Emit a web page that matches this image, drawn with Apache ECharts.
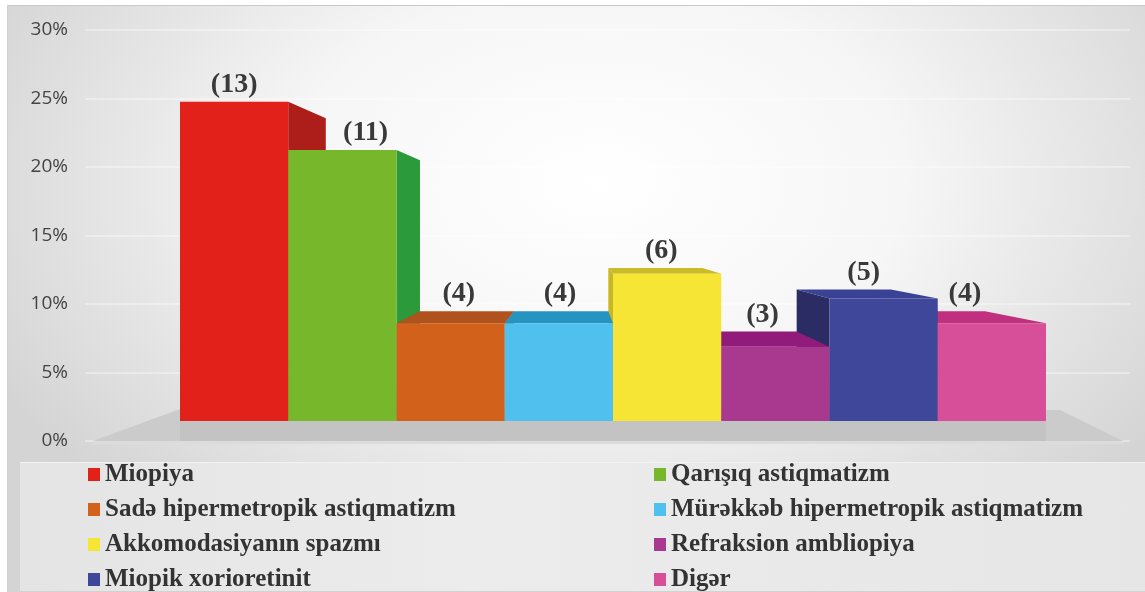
<!DOCTYPE html>
<html>
<head>
<meta charset="utf-8">
<script src="https://cdn.jsdelivr.net/npm/echarts@6/dist/echarts.min.js"></script>
<style>
  html, body { margin: 0; padding: 0; background: #fff; }
  #frame {
    position: absolute; left: 7px; top: 5px; width: 1138px; height: 587px;
    border-top: 1px solid #c9c9c9; border-left: 1px solid #d0d0d0; box-sizing: border-box;
    background: radial-gradient(ellipse 60% 75% at 52% 30%, #ffffff 0%, #f6f6f6 45%, #d4d4d4 100%);
  }
  #legendBox {
    position: absolute; left: 20px; top: 462px; width: 1125px; height: 128px;
    background: linear-gradient(90deg, #e4e4e4, #ececec 40%, #e6e6e6);
    border-top: 1px solid #f2f2f2; border-bottom: 2px solid #d2d2d2;
  }
  #main { position: absolute; left: 0; top: 0; width: 1145px; height: 592px; }
</style>
</head>
<body>
<div id="frame"></div>
<div id="legendBox"></div>
<div id="main"></div>
<script>
// kateqoriyalar (legend sırası ilə)
var categories = ['Miopiya', 'Qarışıq astiqmatizm', 'Sadə hipermetropik astiqmatizm',
  'Mürəkkəb hipermetropik astiqmatizm', 'Akkomodasiyanın spazmı', 'Refraksion ambliopiya',
  'Miopik xorioretinit', 'Digər'];
// faizlər (şəkildən oxunub)
var percents = [24.5, 20.8, 7.5, 7.5, 11.3, 5.7, 9.4, 7.5];
// sütun üstündəki say
var countLabels = ['(13)', '(11)', '(4)', '(4)', '(6)', '(3)', '(5)', '(4)'];
// y oxu
var yMin = 0, yMax = 30, yStep = 5;

var frontColors = ['#e3211b', '#76b72b', '#d1611b', '#50c1ef', '#f6e534', '#a9388f', '#3f479a', '#d64f98'];
var topColors   = ['#b31f1a', '#2c9a3b', '#b0521d', '#2694c0', '#cbbb26', '#901b7b', '#3a4296', '#c0307f'];
var sideColors  = ['#ad1d19', '#2a9a3b', '#a84c1b', '#2389b3', '#c8b723', '#8a1a75', '#2b2c64', '#b22c76'];

// perspektiv nöqtəsi
var VX = 577, VY = 230, K = 0.13;
function project(p) {
  return [p[0] + K * (VX - p[0]), p[1] + K * (VY - p[1])];
}

var chart = echarts.init(document.getElementById('main'), null, { renderer: 'canvas' });

function barGeom(api) {
  var i = api.value(0), v = api.value(1);
  var base = api.coord([i, 0]), top = api.coord([i, v]);
  var w = api.size([1, 0])[0];
  return { i: i, v: v, x0: base[0] - w / 2, x1: base[0] + w / 2, cx: base[0], yT: top[1], yB: base[1] };
}

// döşəmə
function renderFloor(params, api) {
  var cs = params.coordSys;
  var left = cs.x, right = cs.x + cs.width, yB = cs.y + cs.height;
  var shape = function (pts, fill) {
    return { type: 'polygon', shape: { points: pts }, style: { fill: fill }, silent: true };
  };
  return {
    type: 'group',
    children: [
      shape([[left - 87, yB + 20], [left, yB - 12], [right + 14, yB - 11], [right + 77, yB + 20]], '#cbcbcb'),
      shape([[left, yB], [right, yB], [right, yB + 20], [left, yB + 20]], '#c3c3c3'),
      shape([[left - 87, yB + 20], [right + 77, yB + 20], [right + 77, yB + 23], [left - 87, yB + 23]], '#dcdcdc')
    ]
  };
}

// yan və üst üzlər
function renderFaces(params, api) {
  var g = barGeom(api);
  var kids = [];
  if (g.x1 < VX) {
    kids.push({ type: 'polygon', z2: 1, shape: { points: [[g.x1, g.yT], project([g.x1, g.yT]), project([g.x1, g.yB]), [g.x1, g.yB]] },
      style: { fill: sideColors[g.i] } });
  }
  if (g.x0 > VX) {
    kids.push({ type: 'polygon', z2: 1, shape: { points: [[g.x0, g.yT], project([g.x0, g.yT]), project([g.x0, g.yB]), [g.x0, g.yB]] },
      style: { fill: sideColors[g.i] } });
  }
  if (g.yT > VY) {
    kids.push({ type: 'polygon', z2: 2, shape: { points: [[g.x0, g.yT], [g.x1, g.yT], project([g.x1, g.yT]), project([g.x0, g.yT])] },
      style: { fill: topColors[g.i] } });
  }
  return { type: 'group', children: kids };
}

// ön üz + etiket
function renderFront(params, api) {
  var g = barGeom(api);
  var labelY = Math.min(g.yT, project([g.cx, g.yT])[1]) - 3;
  var leftTaller = g.i > 0 && percents[g.i - 1] > g.v;
  var labelX = (g.yT > VY || leftTaller) ? g.cx + 0.5 * K * (VX - g.cx) + (leftTaller && g.yT < VY ? 8 : 0) : g.cx;
  return {
    type: 'group',
    children: [
      { type: 'rect', shape: { x: g.x0, y: g.yT, width: g.x1 - g.x0, height: g.yB - g.yT },
        style: { fill: frontColors[g.i] } },
      { type: 'text', z2: 10, style: {
          text: countLabels[g.i], x: labelX, y: labelY, align: 'center', verticalAlign: 'bottom',
          font: 'bold 28px "Liberation Serif", "Times New Roman", serif', fill: '#393939' } }
    ]
  };
}

var faceData = percents.map(function (v, i) { return [i, v]; });

var series = [
  { type: 'custom', name: 'floor', xAxisIndex: 1, yAxisIndex: 1, z: 1, silent: true,
    renderItem: renderFloor, data: [[0, 0]] },
  { type: 'custom', name: 'faces', xAxisIndex: 1, yAxisIndex: 1, z: 2, silent: true,
    renderItem: renderFaces, data: faceData }
];
categories.forEach(function (name, i) {
  series.push({
    type: 'custom', name: name, xAxisIndex: 1, yAxisIndex: 1, z: 3, silent: true,
    itemStyle: { color: frontColors[i] },
    renderItem: renderFront, data: [[i, percents[i]]]
  });
});

var legendText = { fontFamily: '"Liberation Serif", "Times New Roman", serif', fontWeight: 'bold', fontSize: 25, color: '#333', lineHeight: 24 };

chart.setOption({
  backgroundColor: 'transparent',
  animation: false,
  grid: [
    { left: 85, right: 15, top: 30, bottom: 151 },
    { left: 180, right: 99, top: 30, bottom: 171 }
  ],
  xAxis: [
    { gridIndex: 0, type: 'category', data: categories, show: false },
    { gridIndex: 1, type: 'category', data: categories, show: false, boundaryGap: true }
  ],
  yAxis: [
    { gridIndex: 0, type: 'value', min: yMin, max: yMax, interval: yStep,
      axisLine: { show: false }, axisTick: { show: false },
      axisLabel: { formatter: '{value}%', margin: 17, fontSize: 19, color: '#444', fontFamily: '"Open Sans", "Noto Sans", sans-serif' },
      splitLine: { lineStyle: { color: 'rgba(255,255,255,0.35)', width: 2 } } },
    { gridIndex: 1, type: 'value', min: yMin, max: yMax, show: false }
  ],
  legend: [
    { data: [categories[0], categories[2], categories[4], categories[6]],
      orient: 'vertical', left: 88, top: 462, padding: 0, itemGap: 10,
      itemWidth: 12, itemHeight: 13, icon: 'rect', selectedMode: false, textStyle: legendText },
    { data: [categories[1], categories[3], categories[5], categories[7]],
      orient: 'vertical', left: 654, top: 462, padding: 0, itemGap: 10,
      itemWidth: 12, itemHeight: 13, icon: 'rect', selectedMode: false, textStyle: legendText }
  ],
  series: series
});

window.onresize = function () {
  chart.resize();
};
</script>
</body>
</html>
